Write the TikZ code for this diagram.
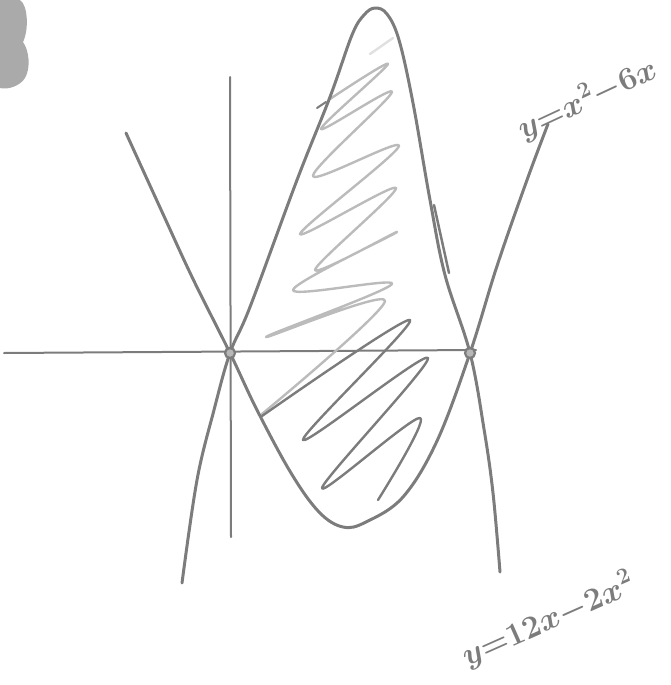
\RequirePackage{fix-cm}
\documentclass[tikz,border=0pt]{standalone}
\usepackage{amsmath,amssymb}
\usepackage{xcolor}
\usepackage{tikz}
\usetikzlibrary{positioning}

\definecolor{pencil}{HTML}{7C7C7C}
\definecolor{lightpencil}{HTML}{BBBBBB}

\begin{document}
\begin{tikzpicture}
  [x=1pt,y=-1pt,
  curve/.style={draw=pencil,line width=3pt,line cap=round,line join=round},
  axis/.style={draw=pencil,line width=2pt,line cap=round},
  scribble/.style={line width=2.4pt,line cap=round,line join=round},
  curvelabel/.style={text=pencil,font=\fontsize{32}{34}\selectfont\boldmath,inner sep=0pt},
  dot/.style={circle,draw=pencil,fill=pencil!55,line width=2.2pt,minimum size=10pt,inner sep=0pt}]

\useasboundingbox (0,0) rectangle (670,685);

% smudge in the corner
\fill[pencil!65] (0,0) -- (20,0) .. controls (28,5) and (29,30) .. (23,42)
  .. controls (29,50) and (31,68) .. (25,78) .. controls (20,86) and (8,90) .. (0,88) -- cycle;

\coordinate (o)   at (230,353);
\coordinate (six) at (470,353);
\coordinate (xl)  at (4,353);
\coordinate (xr)  at (476,350);
\coordinate (yt)  at (230,77);
\coordinate (yb)  at (231,537);

\draw[axis] (xl) -- (xr);
\draw[axis] (yt) -- (yb);

% shading scribbles
\draw[scribble,lightpencil!45] (370,54) -- (393,38);
\draw[scribble,lightpencil] plot[smooth,tension=0.55] coordinates {(330,99) (388,64) (321,129) (392,92) (313,176) (399,146) (300,234) (396,188) (315,270) (397,232) (293,290) (392,284) (266,337) (385,301) (262,414)};
\draw[scribble,pencil] plot[smooth,tension=0.55] coordinates {(262,416) (410,320) (303,440) (428,358) (322,488) (420,418) (378,500)};

% y = 12x - 2x^2
\draw[curve] plot[smooth,tension=0.6] coordinates {(182,583) (197,480) (214,410) (o) (250,307) (297,180) (330,97) (352,35) (364,15) (375,8) (387,14) (399,40) (413,103) (430,200) (445,275) (six) (484,429) (493,493) (500,572)};
\draw[curve,line width=2.5pt] (434,205) -- (449,273);
\draw[curve,line width=2pt] (317,108) -- (326,102);

% y = x^2 - 6x
\draw[curve] plot[smooth,tension=0.6] coordinates {(126,133) (163,214) (193,279) (o) (257,410) (291,473) (319,512) (343,527) (366,522) (403,497) (437,441) (six) (497,266) (527,180) (548,124)};

\node[dot] (odot) at (o) {};
\node[dot] (sixdot) at (six) {};

\node[curvelabel,rotate=25] (upper) at (587,99) {$y{=}x^2{-}6x$};
\node[curvelabel,rotate=24] (lower) at (548,620) {$y{=}12x{-}2x^2$};
\end{tikzpicture}
\end{document}
